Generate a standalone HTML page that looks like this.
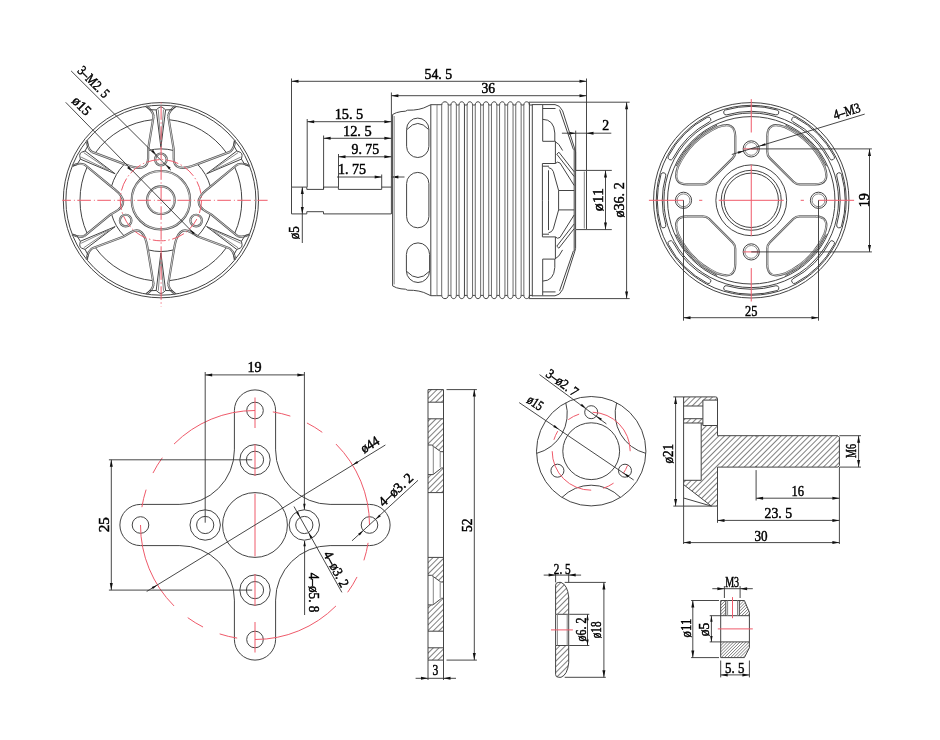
<!DOCTYPE html>
<html><head><meta charset="utf-8"><title>Motor drawing</title><style>
html,body{margin:0;padding:0;background:#fff;}
svg{display:block;will-change:transform;}
.o{fill:none;stroke:#444;stroke-width:1;}
.o2{fill:none;stroke:#555;stroke-width:2.2;}
.w{fill:none;stroke:#fff;stroke-width:0.7;}
.g{fill:none;stroke:#888;stroke-width:1;}
.f{fill:none;stroke:#6a6a6a;stroke-width:1;}
.d{fill:none;stroke:#333;stroke-width:0.9;}
.r{fill:none;stroke:#ef5a6a;stroke-width:1;}
.a{fill:#111;stroke:none;}
.hf{fill:url(#hatch);stroke:none;}
.hf2{fill:url(#hatch2);stroke:none;}
.tS{font-family:"Liberation Serif",serif;fill:#000;stroke:#000;stroke-width:0.45px;}
.tM{font-family:"Liberation Mono",monospace;fill:#000;}
.tA{font-family:"Liberation Sans",sans-serif;fill:#000;}
</style></head>
<body><svg width="940" height="740" viewBox="0 0 940 740"><defs>
<pattern id="hatch" patternUnits="userSpaceOnUse" width="4" height="4" patternTransform="rotate(45)"><line x1="0" y1="0" x2="0" y2="4" stroke="#222" stroke-width="1.15"/></pattern>
<pattern id="hatch2" patternUnits="userSpaceOnUse" width="2.2" height="2.2" patternTransform="rotate(45)"><line x1="0" y1="0" x2="0" y2="2.2" stroke="#333" stroke-width="0.9"/></pattern>
</defs>
<rect width="940" height="740" fill="#fff"/>
<circle class="o" cx="160.9" cy="200.2" r="97.6" />
<circle class="o" cx="160.9" cy="200.2" r="95" />
<path class="o" d="M226.62,153.02A80.9,80.9 0 0 0 168.9,119.7" />
<path class="o" d="M152.9,119.7A80.9,80.9 0 0 0 95.18,153.02" />
<path class="o" d="M87.18,166.88A80.9,80.9 0 0 0 87.18,233.52" />
<path class="o" d="M95.18,247.38A80.9,80.9 0 0 0 152.9,280.7" />
<path class="o" d="M168.9,280.7A80.9,80.9 0 0 0 226.62,247.38" />
<path class="o" d="M234.62,233.52A80.9,80.9 0 0 0 234.62,166.88" />
<path class="o2" d="M230,151.88Q234.98,147.5 234.82,140.43" />
<path class="w" d="M230,151.88Q234.98,147.5 234.82,140.43" />
<path class="o2" d="M237.3,164.52Q243.58,162.4 249.62,166.07" />
<path class="w" d="M237.3,164.52Q243.58,162.4 249.62,166.07" />
<path class="o" d="M234.82,140.43L233.53,144.99L236.75,150.98" />
<path class="o" d="M249.62,166.07L245.03,164.91L241.45,159.12" />
<path class="o" d="M236.75,150.98Q241.04,152.2 241.7,153.55Q242.54,154.8 241.45,159.12" />
<path class="o" d="M236.75,150.98L206.63,173.8L241.45,159.12" />
<path class="g" d="M238.06,152.65L212.71,169.94M240.66,157.15L213.01,170.46" />
<path class="o" d="M210.27,186.25A51.3,51.3 0 0 0 197.67,164.42" />
<path class="o2" d="M153.6,116.2Q152.3,109.7 146.1,106.3" />
<path class="w" d="M153.6,116.2Q152.3,109.7 146.1,106.3" />
<path class="o2" d="M168.2,116.2Q169.5,109.7 175.7,106.3" />
<path class="w" d="M168.2,116.2Q169.5,109.7 175.7,106.3" />
<path class="o" d="M146.1,106.3L149.4,109.7L156.2,109.9" />
<path class="o" d="M175.7,106.3L172.4,109.7L165.6,109.9" />
<path class="o" d="M156.2,109.9Q159.4,106.8 160.9,106.9Q162.4,106.8 165.6,109.9" />
<path class="o" d="M156.2,109.9L160.9,147.4L165.6,109.9" />
<path class="g" d="M158.3,109.6L160.6,140.2M163.5,109.6L161.2,140.2" />
<path class="o" d="M173.5,150.47A51.3,51.3 0 0 0 148.3,150.47" />
<path class="o2" d="M84.5,164.52Q78.22,162.4 72.18,166.07" />
<path class="w" d="M84.5,164.52Q78.22,162.4 72.18,166.07" />
<path class="o2" d="M91.8,151.88Q86.82,147.5 86.98,140.43" />
<path class="w" d="M91.8,151.88Q86.82,147.5 86.98,140.43" />
<path class="o" d="M72.18,166.07L76.77,164.91L80.35,159.12" />
<path class="o" d="M86.98,140.43L88.27,144.99L85.05,150.98" />
<path class="o" d="M80.35,159.12Q79.26,154.8 80.1,153.55Q80.76,152.2 85.05,150.98" />
<path class="o" d="M80.35,159.12L115.17,173.8L85.05,150.98" />
<path class="g" d="M81.14,157.15L108.79,170.46M83.74,152.65L109.09,169.94" />
<path class="o" d="M124.13,164.42A51.3,51.3 0 0 0 111.53,186.25" />
<path class="o2" d="M91.8,248.52Q86.82,252.9 86.98,259.97" />
<path class="w" d="M91.8,248.52Q86.82,252.9 86.98,259.97" />
<path class="o2" d="M84.5,235.88Q78.22,238 72.18,234.33" />
<path class="w" d="M84.5,235.88Q78.22,238 72.18,234.33" />
<path class="o" d="M86.98,259.97L88.27,255.41L85.05,249.42" />
<path class="o" d="M72.18,234.33L76.77,235.49L80.35,241.28" />
<path class="o" d="M85.05,249.42Q80.76,248.2 80.1,246.85Q79.26,245.6 80.35,241.28" />
<path class="o" d="M85.05,249.42L115.17,226.6L80.35,241.28" />
<path class="g" d="M83.74,247.75L109.09,230.46M81.14,243.25L108.79,229.94" />
<path class="o" d="M111.53,214.15A51.3,51.3 0 0 0 124.13,235.98" />
<path class="o2" d="M168.2,284.2Q169.5,290.7 175.7,294.1" />
<path class="w" d="M168.2,284.2Q169.5,290.7 175.7,294.1" />
<path class="o2" d="M153.6,284.2Q152.3,290.7 146.1,294.1" />
<path class="w" d="M153.6,284.2Q152.3,290.7 146.1,294.1" />
<path class="o" d="M175.7,294.1L172.4,290.7L165.6,290.5" />
<path class="o" d="M146.1,294.1L149.4,290.7L156.2,290.5" />
<path class="o" d="M165.6,290.5Q162.4,293.6 160.9,293.5Q159.4,293.6 156.2,290.5" />
<path class="o" d="M165.6,290.5L160.9,253L156.2,290.5" />
<path class="g" d="M163.5,290.8L161.2,260.2M158.3,290.8L160.6,260.2" />
<path class="o" d="M148.3,249.93A51.3,51.3 0 0 0 173.5,249.93" />
<path class="o2" d="M237.3,235.88Q243.58,238 249.62,234.33" />
<path class="w" d="M237.3,235.88Q243.58,238 249.62,234.33" />
<path class="o2" d="M230,248.52Q234.98,252.9 234.82,259.97" />
<path class="w" d="M230,248.52Q234.98,252.9 234.82,259.97" />
<path class="o" d="M249.62,234.33L245.03,235.49L241.45,241.28" />
<path class="o" d="M234.82,259.97L233.53,255.41L236.75,249.42" />
<path class="o" d="M241.45,241.28Q242.54,245.6 241.7,246.85Q241.04,248.2 236.75,249.42" />
<path class="o" d="M241.45,241.28L206.63,226.6L236.75,249.42" />
<path class="g" d="M240.66,243.25L213.01,229.94M238.06,247.75L212.71,230.46" />
<path class="o" d="M197.67,235.98A51.3,51.3 0 0 0 210.27,214.15" />
<path class="o2" d="M230,151.88L198.67,163.61L194.87,165.04Q173.7,172.97 173.7,158.2L173.7,149.2L168.2,116.2" />
<path class="w" d="M230,151.88L198.67,163.61L194.87,165.04Q173.7,172.97 173.7,158.2L173.7,149.2L168.2,116.2" />
<path class="o2" d="M153.6,116.2L148.1,149.2L148.1,158.2Q148.1,172.97 126.93,165.04L123.13,163.61L91.8,151.88" />
<path class="w" d="M153.6,116.2L148.1,149.2L148.1,158.2Q148.1,172.97 126.93,165.04L123.13,163.61L91.8,151.88" />
<path class="o2" d="M84.5,164.52L110.33,185.79L115.03,189.65Q130.92,202.73 115.53,211.61L110.33,214.61L84.5,235.88" />
<path class="w" d="M84.5,164.52L110.33,185.79L115.03,189.65Q130.92,202.73 115.53,211.61L110.33,214.61L84.5,235.88" />
<path class="o2" d="M91.8,248.52L123.13,236.79L130.93,232.29Q143.72,224.9 147.43,247.2L148.1,251.2L153.6,284.2" />
<path class="w" d="M91.8,248.52L123.13,236.79L130.93,232.29Q143.72,224.9 147.43,247.2L148.1,251.2L153.6,284.2" />
<path class="o2" d="M168.2,284.2L173.7,251.2L174.37,247.2Q178.08,224.9 190.87,232.29L198.67,236.79L230,248.52" />
<path class="w" d="M168.2,284.2L173.7,251.2L174.37,247.2Q178.08,224.9 190.87,232.29L198.67,236.79L230,248.52" />
<path class="o2" d="M237.3,235.88L211.47,214.61L206.27,211.61Q190.88,202.73 206.77,189.65L211.47,185.79L237.3,164.52" />
<path class="w" d="M237.3,235.88L211.47,214.61L206.27,211.61Q190.88,202.73 206.77,189.65L211.47,185.79L237.3,164.52" />
<circle class="o2" cx="160.9" cy="200.2" r="29.2" />
<circle class="w" cx="160.9" cy="200.2" r="29.15" />
<circle class="o2" cx="160.9" cy="200.2" r="13.8" />
<circle class="w" cx="160.9" cy="200.2" r="13.75" />
<circle class="o2" cx="160.9" cy="159.5" r="5.8" />
<circle class="w" cx="160.9" cy="159.5" r="5.8" />
<circle class="o2" cx="125.65" cy="220.55" r="5.8" />
<circle class="w" cx="125.65" cy="220.55" r="5.8" />
<circle class="o2" cx="196.15" cy="220.55" r="5.8" />
<circle class="w" cx="196.15" cy="220.55" r="5.8" />
<circle class="r" cx="160.9" cy="200.2" r="40.6" stroke-dasharray="13 2.6 1.4 2.6"/>
<path class="r" d="M62.3,200.3H267.6" stroke-dasharray="13.6 3 0.9 2.5" stroke-dashoffset="5"/>
<path class="r" d="M161.1,101.3V306.7" stroke-dasharray="13.5 2.6 1.2 2.7" stroke-dashoffset="-5"/>
<line class="d" x1="71.1" y1="70.9" x2="171" y2="170.3"/>
<path class="a" d="M156.4,154.9L151.31,151.51L153.01,149.81Z"/>
<path class="a" d="M165.6,164.3L170.69,167.69L168.99,169.39Z"/>
<line class="d" x1="65.7" y1="102.3" x2="197.5" y2="237.2"/>
<path class="a" d="M132.2,171.5L127.14,168.06L128.86,166.38Z"/>
<path class="a" d="M189.6,229.2L194.66,232.64L192.94,234.32Z"/>
<path class="o" d="M291.5,187.1H306.8V189.4H323.5V187.1H338.4V189.4H381.7V187.1H391.3" />
<path class="o" d="M291.5,213.9H306.8V211.7H323.5V213.9H391.3" />
<line class="o" x1="291.5" y1="187.1" x2="291.5" y2="213.9"/>
<line class="d" x1="291.5" y1="78.5" x2="291.5" y2="187.1"/>
<line class="d" x1="307.2" y1="119" x2="307.2" y2="187.1"/>
<line class="d" x1="323.6" y1="135.5" x2="323.6" y2="189.4"/>
<line class="d" x1="338.5" y1="154" x2="338.5" y2="187.1"/>
<line class="d" x1="381.7" y1="174.5" x2="381.7" y2="187.1"/>
<line class="d" x1="391.4" y1="92.5" x2="391.4" y2="214"/>
<line class="d" x1="586.5" y1="78.5" x2="586.5" y2="170.4"/>
<line class="d" x1="291.5" y1="81.3" x2="586.5" y2="81.3"/>
<path class="a" d="M291.5,81.3L298.5,79.8L298.5,82.8Z"/>
<path class="a" d="M586.5,81.3L579.5,82.8L579.5,79.8Z"/>
<line class="d" x1="391.4" y1="95.7" x2="586.5" y2="95.7"/>
<path class="a" d="M391.4,95.7L398.4,94.2L398.4,97.2Z"/>
<path class="a" d="M586.5,95.7L579.5,97.2L579.5,94.2Z"/>
<line class="d" x1="307.2" y1="121.7" x2="391.4" y2="121.7"/>
<path class="a" d="M307.2,121.7L314.2,120.2L314.2,123.2Z"/>
<path class="a" d="M391.4,121.7L384.4,123.2L384.4,120.2Z"/>
<line class="d" x1="323.6" y1="138.3" x2="391.4" y2="138.3"/>
<path class="a" d="M323.6,138.3L330.6,136.8L330.6,139.8Z"/>
<path class="a" d="M391.4,138.3L384.4,139.8L384.4,136.8Z"/>
<line class="d" x1="338.5" y1="156.8" x2="391.4" y2="156.8"/>
<path class="a" d="M338.5,156.8L345.5,155.3L345.5,158.3Z"/>
<path class="a" d="M391.4,156.8L384.4,158.3L384.4,155.3Z"/>
<line class="d" x1="337" y1="177" x2="381.7" y2="177"/>
<path class="a" d="M381.7,177L374.7,178.5L374.7,175.5Z"/>
<line class="d" x1="391.4" y1="177" x2="404.5" y2="177"/>
<path class="a" d="M391.4,177L398.4,175.5L398.4,178.5Z"/>
<line class="d" x1="302.3" y1="187.1" x2="302.3" y2="243"/>
<path class="a" d="M302.3,187.1L303.8,194.1L300.8,194.1Z"/>
<path class="a" d="M302.3,213.9L300.8,206.9L303.8,206.9Z"/>
<line class="d" x1="561.9" y1="133.2" x2="611.3" y2="133.2"/>
<path class="a" d="M575.7,133.2L568.7,134.7L568.7,131.7Z"/>
<path class="a" d="M586.5,133.2L593.5,131.7L593.5,134.7Z"/>
<line class="d" x1="575.7" y1="130.6" x2="575.7" y2="170.4"/>
<line class="d" x1="586.5" y1="170.4" x2="611.8" y2="170.4"/>
<line class="d" x1="586.5" y1="229.6" x2="611.8" y2="229.6"/>
<line class="d" x1="605.5" y1="170.4" x2="605.5" y2="229.6"/>
<path class="a" d="M605.5,170.4L607,177.4L604,177.4Z"/>
<path class="a" d="M605.5,229.6L604,222.6L607,222.6Z"/>
<line class="d" x1="528.6" y1="102.2" x2="629.7" y2="102.2"/>
<line class="d" x1="528.6" y1="298.6" x2="629.7" y2="298.6"/>
<line class="d" x1="626.6" y1="102.2" x2="626.6" y2="298.6"/>
<path class="a" d="M626.6,102.2L628.1,109.2L625.1,109.2Z"/>
<path class="a" d="M626.6,298.6L625.1,291.6L628.1,291.6Z"/>
<path class="o" d="M392.6,114.5Q396,112.3 401,111.6L405.5,111.2L407.5,110.2Q420,110.5 428,106L430.8,104.7H437" />
<path class="o" d="M392.6,285.9Q396,288.1 401,288.8L405.5,289.2L407.5,290.2Q420,289.9 428,294.4L430.8,295.7H437" />
<line class="o" x1="392.6" y1="114.5" x2="392.6" y2="285.9"/>
<line class="g" x1="394.2" y1="116" x2="394.2" y2="284.4"/>
<line class="o" x1="430.8" y1="104.7" x2="430.8" y2="295.7"/>
<line class="g" x1="437" y1="104.7" x2="437" y2="295.7"/>
<path class="o" d="M406.6,129.25A11.15,11.15 0 0 1 428.9,129.25V146.35A11.15,11.15 0 0 1 406.6,146.35Z" />
<path class="o" d="M407,129.5Q417.8,117.4 428.6,129.5" />
<path class="o" d="M406.6,183.55A11.15,11.15 0 0 1 428.9,183.55V216.65A11.15,11.15 0 0 1 406.6,216.65Z" />
<path class="o" d="M406.4,254.5A11.6,11.6 0 0 1 429.6,254.5V270.9A11.6,11.6 0 0 1 406.4,270.9Z" />
<path class="o" d="M406.8,271.5Q418,283.5 429.2,271.5" />
<path class="o" d="M437,104.7H441.7L441.7,105C441.7,100.7 448.25,100.7 448.25,105L450.95,105C450.95,100.7 456.35,100.7 456.35,105L459.05,105C459.05,100.7 464.45,100.7 464.45,105L467.15,105C467.15,100.7 472.55,100.7 472.55,105L475.25,105C475.25,100.7 480.65,100.7 480.65,105L483.35,105C483.35,100.7 488.75,100.7 488.75,105L491.45,105C491.45,100.7 496.85,100.7 496.85,105L499.55,105C499.55,100.7 504.95,100.7 504.95,105L507.65,105C507.65,100.7 513.05,100.7 513.05,105L515.75,105C515.75,100.7 521.15,100.7 521.15,105L523.85,105C523.85,100.7 529.4,100.7 529.4,105L532.3,105" />
<path class="o" d="M437,295.7H441.7L441.7,295.4C441.7,299.7 448.25,299.7 448.25,295.4L450.95,295.4C450.95,299.7 456.35,299.7 456.35,295.4L459.05,295.4C459.05,299.7 464.45,299.7 464.45,295.4L467.15,295.4C467.15,299.7 472.55,299.7 472.55,295.4L475.25,295.4C475.25,299.7 480.65,299.7 480.65,295.4L483.35,295.4C483.35,299.7 488.75,299.7 488.75,295.4L491.45,295.4C491.45,299.7 496.85,299.7 496.85,295.4L499.55,295.4C499.55,299.7 504.95,299.7 504.95,295.4L507.65,295.4C507.65,299.7 513.05,299.7 513.05,295.4L515.75,295.4C515.75,299.7 521.15,299.7 521.15,295.4L523.85,295.4C523.85,299.7 529.4,299.7 529.4,295.4L532.3,295.4" />
<line class="f" x1="441.7" y1="104.6" x2="441.7" y2="295.8"/>
<line class="f" x1="448.25" y1="104.4" x2="448.25" y2="296"/>
<line class="f" x1="450.95" y1="104.4" x2="450.95" y2="296"/>
<line class="f" x1="456.35" y1="104.4" x2="456.35" y2="296"/>
<line class="f" x1="459.05" y1="104.4" x2="459.05" y2="296"/>
<line class="o" x1="464.45" y1="104.4" x2="464.45" y2="296"/>
<line class="f" x1="467.15" y1="104.4" x2="467.15" y2="296"/>
<line class="f" x1="472.55" y1="104.4" x2="472.55" y2="296"/>
<line class="f" x1="475.25" y1="104.4" x2="475.25" y2="296"/>
<line class="f" x1="480.65" y1="104.4" x2="480.65" y2="296"/>
<line class="f" x1="483.35" y1="104.4" x2="483.35" y2="296"/>
<line class="f" x1="488.75" y1="104.4" x2="488.75" y2="296"/>
<line class="f" x1="491.45" y1="104.4" x2="491.45" y2="296"/>
<line class="f" x1="496.85" y1="104.4" x2="496.85" y2="296"/>
<line class="f" x1="499.55" y1="104.4" x2="499.55" y2="296"/>
<line class="f" x1="504.95" y1="104.4" x2="504.95" y2="296"/>
<line class="f" x1="507.65" y1="104.4" x2="507.65" y2="296"/>
<line class="f" x1="513.05" y1="104.4" x2="513.05" y2="296"/>
<line class="f" x1="515.75" y1="104.4" x2="515.75" y2="296"/>
<line class="f" x1="521.15" y1="104.4" x2="521.15" y2="296"/>
<line class="f" x1="523.85" y1="104.4" x2="523.85" y2="296"/>
<line class="o" x1="529.4" y1="102.5" x2="529.4" y2="297.9"/>
<line class="o" x1="532.3" y1="104" x2="532.3" y2="296.4"/>
<path class="o" d="M532.3,104.6H555Q559.8,105 562.6,110.8L574.8,149L575.6,152V170.4" />
<path class="o" d="M559.6,109.6L573.4,149.5" />
<line class="o" x1="542.7" y1="108.5" x2="555.5" y2="108.5"/>
<path class="o" d="M542.7,105V141.3H554.8V133Q554,119.5 542.7,119.3" />
<path class="o" d="M554.8,141.3Q559,143 562.6,150.5" />
<path class="o" d="M556.8,154.2L574.2,176.5M558.9,152.2L574.2,171.8M556.8,154.2L558.9,152.2" />
<path class="o" d="M555.3,163.5Q557.5,161 560,163L574.2,185.5" />
<path class="o" d="M542.4,163.5H555.3M542.4,163.5V200.2M548.5,170.3V200.2M542.4,166.2H549" />
<path class="o" d="M548.5,167.6Q552,168 553.3,171.5L558.6,190.5H574.2" />
<line class="o" x1="555.4" y1="141.3" x2="555.4" y2="163.5"/>
<path class="o" d="M532.3,295.8H555Q559.8,295.4 562.6,289.6L574.8,251.4L575.6,248.4V230" />
<path class="o" d="M559.6,290.8L573.4,250.9" />
<line class="o" x1="542.7" y1="291.9" x2="555.5" y2="291.9"/>
<path class="o" d="M542.7,295.4V259.1H554.8V267.4Q554,280.9 542.7,281.1" />
<path class="o" d="M554.8,259.1Q559,257.4 562.6,249.9" />
<path class="o" d="M556.8,246.2L574.2,223.9M558.9,248.2L574.2,228.6M556.8,246.2L558.9,248.2" />
<path class="o" d="M555.3,236.9Q557.5,239.4 560,237.4L574.2,214.9" />
<path class="o" d="M542.4,236.9H555.3M542.4,236.9V200.2M548.5,230.1V200.2M542.4,234.2H549" />
<path class="o" d="M548.5,232.8Q552,232.4 553.3,228.9L558.6,209.9H574.2" />
<line class="o" x1="555.4" y1="259.1" x2="555.4" y2="236.9"/>
<line class="o" x1="558.6" y1="190.5" x2="558.6" y2="209.9"/>
<line class="o" x1="574.2" y1="149" x2="574.2" y2="251.4"/>
<line class="o" x1="575.6" y1="170.4" x2="575.6" y2="229.6"/>
<path class="o" d="M575.6,170.4H586.5V229.6H575.6" />
<line class="g" x1="584.3" y1="171.5" x2="584.3" y2="228.5"/>
<circle class="o" cx="751.25" cy="200.3" r="97.7" />
<circle class="o" cx="751.25" cy="200.3" r="95" />
<circle class="o" cx="751.25" cy="200.3" r="87.3" />
<circle class="o" cx="751.25" cy="200.3" r="83.7" />
<path class="o" d="M841.51,226.18A93.9,93.9 0 0 0 841.51,174.42A2.5,2.5 0 0 0 836.71,175.8A88.9,88.9 0 0 1 836.71,224.8A2.5,2.5 0 0 0 841.51,226.18Z" />
<path class="o" d="M834.16,156.22A93.9,93.9 0 0 0 795.33,117.39A2.5,2.5 0 0 0 792.99,121.81A88.9,88.9 0 0 1 829.74,158.56A2.5,2.5 0 0 0 834.16,156.22Z" />
<path class="o" d="M777.13,110.04A93.9,93.9 0 0 0 725.37,110.04A2.5,2.5 0 0 0 726.75,114.84A88.9,88.9 0 0 1 775.75,114.84A2.5,2.5 0 0 0 777.13,110.04Z" />
<path class="o" d="M707.17,117.39A93.9,93.9 0 0 0 668.34,156.22A2.5,2.5 0 0 0 672.76,158.56A88.9,88.9 0 0 1 709.51,121.81A2.5,2.5 0 0 0 707.17,117.39Z" />
<path class="o" d="M660.99,174.42A93.9,93.9 0 0 0 660.99,226.18A2.5,2.5 0 0 0 665.79,224.8A88.9,88.9 0 0 1 665.79,175.8A2.5,2.5 0 0 0 660.99,174.42Z" />
<path class="o" d="M668.34,244.38A93.9,93.9 0 0 0 707.17,283.21A2.5,2.5 0 0 0 709.51,278.79A88.9,88.9 0 0 1 672.76,242.04A2.5,2.5 0 0 0 668.34,244.38Z" />
<path class="o" d="M725.37,290.56A93.9,93.9 0 0 0 777.13,290.56A2.5,2.5 0 0 0 775.75,285.76A88.9,88.9 0 0 1 726.75,285.76A2.5,2.5 0 0 0 725.37,290.56Z" />
<path class="o" d="M795.33,283.21A93.9,93.9 0 0 0 834.16,244.38A2.5,2.5 0 0 0 829.74,242.04A88.9,88.9 0 0 1 792.99,278.79A2.5,2.5 0 0 0 795.33,283.21Z" />
<path class="o2" d="M767.25,151.8L767.25,136.3Q767.25,120.8 784.67,126.96A80.6,80.6 0 0 1 824.59,166.88Q830.75,184.3 815.25,184.3L799.75,184.3Q795.95,184.3 793.45,181.8L769.75,158.1Q767.25,155.6 767.25,151.8Z" />
<path class="w" d="M767.25,151.8L767.25,136.3Q767.25,120.8 784.67,126.96A80.6,80.6 0 0 1 824.59,166.88Q830.75,184.3 815.25,184.3L799.75,184.3Q795.95,184.3 793.45,181.8L769.75,158.1Q767.25,155.6 767.25,151.8Z" />
<path class="o" d="M785.5,125.14A82.6,82.6 0 0 1 826.41,166.05" />
<path class="g" d="M785.74,126.35A81.6,81.6 0 0 1 825.2,165.81" style="stroke-width:1.6;stroke:#999;stroke-dasharray:0.8 0.8"/>
<path class="o2" d="M735.25,151.8L735.25,136.3Q735.25,120.8 717.83,126.96A80.6,80.6 0 0 0 677.91,166.88Q671.75,184.3 687.25,184.3L702.75,184.3Q706.55,184.3 709.05,181.8L732.75,158.1Q735.25,155.6 735.25,151.8Z" />
<path class="w" d="M735.25,151.8L735.25,136.3Q735.25,120.8 717.83,126.96A80.6,80.6 0 0 0 677.91,166.88Q671.75,184.3 687.25,184.3L702.75,184.3Q706.55,184.3 709.05,181.8L732.75,158.1Q735.25,155.6 735.25,151.8Z" />
<path class="o" d="M717,125.14A82.6,82.6 0 0 0 676.09,166.05" />
<path class="g" d="M716.76,126.35A81.6,81.6 0 0 0 677.3,165.81" style="stroke-width:1.6;stroke:#999;stroke-dasharray:0.8 0.8"/>
<path class="o2" d="M767.25,248.8L767.25,264.3Q767.25,279.8 784.67,273.64A80.6,80.6 0 0 0 824.59,233.72Q830.75,216.3 815.25,216.3L799.75,216.3Q795.95,216.3 793.45,218.8L769.75,242.5Q767.25,245 767.25,248.8Z" />
<path class="w" d="M767.25,248.8L767.25,264.3Q767.25,279.8 784.67,273.64A80.6,80.6 0 0 0 824.59,233.72Q830.75,216.3 815.25,216.3L799.75,216.3Q795.95,216.3 793.45,218.8L769.75,242.5Q767.25,245 767.25,248.8Z" />
<path class="o" d="M785.5,275.46A82.6,82.6 0 0 0 826.41,234.55" />
<path class="g" d="M785.74,274.25A81.6,81.6 0 0 0 825.2,234.79" style="stroke-width:1.6;stroke:#999;stroke-dasharray:0.8 0.8"/>
<path class="o2" d="M735.25,248.8L735.25,264.3Q735.25,279.8 717.83,273.64A80.6,80.6 0 0 1 677.91,233.72Q671.75,216.3 687.25,216.3L702.75,216.3Q706.55,216.3 709.05,218.8L732.75,242.5Q735.25,245 735.25,248.8Z" />
<path class="w" d="M735.25,248.8L735.25,264.3Q735.25,279.8 717.83,273.64A80.6,80.6 0 0 1 677.91,233.72Q671.75,216.3 687.25,216.3L702.75,216.3Q706.55,216.3 709.05,218.8L732.75,242.5Q735.25,245 735.25,248.8Z" />
<path class="o" d="M717,275.46A82.6,82.6 0 0 1 676.09,234.55" />
<path class="g" d="M716.76,274.25A81.6,81.6 0 0 1 677.3,234.79" style="stroke-width:1.6;stroke:#999;stroke-dasharray:0.8 0.8"/>
<circle class="o" cx="751.25" cy="148.9" r="8.1" />
<circle class="g" cx="751.25" cy="148.9" r="6.4" />
<circle class="o" cx="751.25" cy="251.9" r="8.1" />
<circle class="g" cx="751.25" cy="251.9" r="6.4" />
<circle class="o" cx="683.5" cy="200.3" r="8.1" />
<circle class="g" cx="683.5" cy="200.3" r="6.4" />
<circle class="o" cx="818.5" cy="200.3" r="8.1" />
<circle class="g" cx="818.5" cy="200.3" r="6.4" />
<circle class="o" cx="751.25" cy="200.3" r="35.4" />
<circle class="o" cx="751.25" cy="200.3" r="30" />
<circle class="o" cx="751.25" cy="200.3" r="27.2" />
<line class="r" x1="718.75" y1="200.3" x2="783.75" y2="200.3"/>
<line class="r" x1="751.25" y1="167.8" x2="751.25" y2="232.8"/>
<line class="r" x1="751.25" y1="99.1" x2="751.25" y2="132.5"/>
<line class="r" x1="751.25" y1="268.1" x2="751.25" y2="301.5"/>
<line class="r" x1="648.9" y1="200.3" x2="683.5" y2="200.3"/>
<line class="r" x1="818.5" y1="200.3" x2="854.1" y2="200.3"/>
<line class="r" x1="699.1" y1="200.3" x2="702.3" y2="200.3"/>
<line class="r" x1="800.7" y1="200.3" x2="803.9" y2="200.3"/>
<line class="r" x1="751.25" y1="164.7" x2="751.25" y2="167.7"/>
<line class="r" x1="751.25" y1="232.9" x2="751.25" y2="235.9"/>
<line class="r" x1="743.25" y1="148.9" x2="759.25" y2="148.9"/>
<line class="r" x1="743.25" y1="251.9" x2="759.25" y2="251.9"/>
<line class="d" x1="751.25" y1="148.9" x2="871.9" y2="148.9"/>
<line class="d" x1="751.25" y1="251.9" x2="871.9" y2="251.9"/>
<line class="d" x1="869.5" y1="148.9" x2="869.5" y2="251.9"/>
<path class="a" d="M869.5,148.9L871,155.9L868,155.9Z"/>
<path class="a" d="M869.5,251.9L868,244.9L871,244.9Z"/>
<line class="d" x1="683.5" y1="200.3" x2="683.5" y2="320.7"/>
<line class="d" x1="818.5" y1="200.3" x2="818.5" y2="320.7"/>
<line class="d" x1="683.5" y1="317.7" x2="818.5" y2="317.7"/>
<path class="a" d="M683.5,317.7L690.5,316.2L690.5,319.2Z"/>
<path class="a" d="M818.5,317.7L811.5,319.2L811.5,316.2Z"/>
<line class="d" x1="731.8" y1="154.5" x2="864.7" y2="114.1"/>
<path class="a" d="M743.8,150.9L738.41,153.79L737.71,151.5Z"/>
<path class="a" d="M759.6,146.1L764.99,143.21L765.69,145.5Z"/>
<path class="o" d="M234.4,410.5A20.6,20.6 0 0 1 275.6,410.5L275.6,449.9A54.5,54.5 0 0 0 330.1,504.4L369.5,504.4A20.6,20.6 0 0 1 369.5,545.6L330.1,545.6A54.5,54.5 0 0 0 275.6,600.1L275.6,639.5A20.6,20.6 0 0 1 234.4,639.5L234.4,600.1A54.5,54.5 0 0 0 179.9,545.6L140.5,545.6A20.6,20.6 0 0 1 140.5,504.4L179.9,504.4A54.5,54.5 0 0 0 234.4,449.9Z" />
<circle class="o" cx="255" cy="525" r="32.4" />
<circle class="o" cx="255" cy="410.5" r="8.3" />
<circle class="o" cx="255" cy="639.5" r="8.3" />
<circle class="o" cx="140.5" cy="525" r="8.3" />
<circle class="o" cx="369.5" cy="525" r="8.3" />
<circle class="o" cx="255" cy="459.8" r="15.2" />
<circle class="o" cx="255" cy="459.8" r="8.6" />
<circle class="o" cx="255" cy="590.1" r="15.2" />
<circle class="o" cx="255" cy="590.1" r="8.6" />
<circle class="o" cx="205.2" cy="525" r="15.2" />
<circle class="o" cx="205.2" cy="525" r="8.6" />
<circle class="o" cx="304.3" cy="525" r="15.2" />
<circle class="o" cx="304.3" cy="525" r="8.6" />
<circle class="r" cx="255" cy="525" r="114.5" pathLength="360" stroke-dasharray="9 9 9 9 45 9" stroke-dashoffset="81"/>
<line class="r" x1="255" y1="493.6" x2="255" y2="556.4"/>
<line class="r" x1="255" y1="444.2" x2="255" y2="476"/>
<line class="r" x1="255" y1="574" x2="255" y2="606"/>
<line class="r" x1="255" y1="397.5" x2="255" y2="428"/>
<line class="r" x1="255" y1="622" x2="255" y2="652.5"/>
<line class="d" x1="205.2" y1="372" x2="205.2" y2="522.7"/>
<line class="d" x1="304.4" y1="372" x2="304.4" y2="509.8"/>
<line class="d" x1="205.2" y1="374.9" x2="304.4" y2="374.9"/>
<path class="a" d="M205.2,374.9L212.2,373.4L212.2,376.4Z"/>
<path class="a" d="M304.4,374.9L297.4,376.4L297.4,373.4Z"/>
<line class="d" x1="108.9" y1="459.8" x2="252.2" y2="459.8"/>
<line class="d" x1="108.9" y1="590.1" x2="252.2" y2="590.1"/>
<line class="d" x1="111.3" y1="459.8" x2="111.3" y2="590.1"/>
<path class="a" d="M111.3,459.8L112.8,466.8L109.8,466.8Z"/>
<path class="a" d="M111.3,590.1L109.8,583.1L112.8,583.1Z"/>
<line class="d" x1="146.7" y1="591.46" x2="385.4" y2="444.97"/>
<path class="a" d="M352.59,465.11L357.07,460.95L358.33,462.99Z"/>
<path class="a" d="M157.41,584.89L152.93,589.05L151.67,587.01Z"/>
<line class="d" x1="352" y1="540.8" x2="418" y2="480.3"/>
<path class="a" d="M363.38,530.61L359.77,535.55L358.15,533.78Z"/>
<path class="a" d="M375.62,519.39L379.23,514.45L380.85,516.22Z"/>
<line class="d" x1="294" y1="506.5" x2="341.9" y2="592.4"/>
<path class="a" d="M300.11,517.49L296.14,512.83L298.24,511.66Z"/>
<path class="a" d="M308.49,532.51L312.46,537.17L310.36,538.34Z"/>
<line class="d" x1="304.6" y1="541" x2="304.6" y2="615"/>
<path class="a" d="M304.6,540.2L305.8,546.2L303.4,546.2Z"/>
<path class="a" d="M304.4,509.8L303.2,503.8L305.6,503.8Z"/>
<path class="o" d="M428,389.6H443.5V660.1H428Z" />
<rect class="hf" x="428" y="389.6" width="15.5" height="12.6"/>
<rect class="hf" x="428" y="647.8" width="15.5" height="12.3"/>
<path class="hf" d="M428,418.8L443.5,418.8L443.5,451.7L440.8,451.7L431.5,445L428,445Z"/>
<path class="hf" d="M428,474.6L433,474.6L441.5,468L443.5,468L443.5,492.6L428,492.6Z"/>
<path class="o" d="M428,445H431.5L440.8,451.7H443.5M428,474.6H433L441.5,468H443.5" />
<line class="g" x1="433.3" y1="445.3" x2="433.3" y2="474.3"/>
<line class="g" x1="440.2" y1="452" x2="440.2" y2="467.6"/>
<path class="hf" d="M428,557.4L443.5,557.4L443.5,582L440.8,582L431.5,575.3L428,575.3Z"/>
<path class="hf" d="M428,604.9L433,604.9L441.5,598.3L443.5,598.3L443.5,631.2L428,631.2Z"/>
<path class="o" d="M428,575.3H431.5L440.8,582H443.5M428,604.9H433L441.5,598.3H443.5" />
<line class="g" x1="433.3" y1="575.6" x2="433.3" y2="604.6"/>
<line class="g" x1="440.2" y1="582.3" x2="440.2" y2="597.9"/>
<line class="o" x1="428" y1="402.2" x2="443.5" y2="402.2"/>
<line class="o" x1="428" y1="418.8" x2="443.5" y2="418.8"/>
<line class="o" x1="428" y1="492.6" x2="443.5" y2="492.6"/>
<line class="o" x1="428" y1="557.4" x2="443.5" y2="557.4"/>
<line class="o" x1="428" y1="631.2" x2="443.5" y2="631.2"/>
<line class="o" x1="428" y1="647.8" x2="443.5" y2="647.8"/>
<line class="d" x1="446.5" y1="389.6" x2="476.9" y2="389.6"/>
<line class="d" x1="446.5" y1="660.1" x2="476.9" y2="660.1"/>
<line class="d" x1="474.3" y1="389.6" x2="474.3" y2="660.1"/>
<path class="a" d="M474.3,389.6L475.8,396.6L472.8,396.6Z"/>
<path class="a" d="M474.3,660.1L472.8,653.1L475.8,653.1Z"/>
<line class="d" x1="428" y1="660.1" x2="428" y2="680"/>
<line class="d" x1="443.5" y1="660.1" x2="443.5" y2="680"/>
<line class="d" x1="415.6" y1="678.3" x2="456" y2="678.3"/>
<path class="a" d="M428,678.3L421,679.8L421,676.8Z"/>
<path class="a" d="M443.5,678.3L450.5,676.8L450.5,679.8Z"/>
<circle class="o" cx="591.2" cy="451.2" r="54.7" />
<circle class="o" cx="591.2" cy="451.2" r="28.4" />
<circle class="o" cx="591.2" cy="412.2" r="6.5" />
<circle class="o" cx="557.43" cy="470.7" r="6.5" />
<circle class="o" cx="624.97" cy="470.7" r="6.5" />
<path class="o" d="M616.63,402.77A41,41 0 0 0 645.86,453.39" />
<path class="o" d="M536.54,453.39A41,41 0 0 0 565.77,402.77" />
<path class="o" d="M620.42,497.44A41,41 0 0 0 561.98,497.44" />
<path class="r" d="M630.2,451.2A39,39 0 0 0 592.56,412.22" />
<path class="r" d="M579.15,414.11A39,39 0 0 0 568.28,419.65" />
<path class="r" d="M557.77,431.11A39,39 0 0 0 553.9,439.8" />
<path class="r" d="M552.2,451.2A39,39 0 0 0 591.2,490.2" />
<path class="r" d="M603.25,488.29A39,39 0 0 0 613.57,483.15" />
<path class="r" d="M623.15,473.57A39,39 0 0 0 627.61,465.18" />
<line class="d" x1="539.5" y1="374.6" x2="606.4" y2="423.9"/>
<path class="a" d="M585.97,408.34L580.43,405.75L581.85,403.82Z"/>
<path class="a" d="M596.43,416.06L601.97,418.65L600.55,420.58Z"/>
<line class="d" x1="519.2" y1="402.6" x2="633.7" y2="480"/>
<path class="a" d="M558.89,429.36L553.25,426.99L554.59,425Z"/>
<path class="a" d="M623.51,473.04L629.15,475.41L627.81,477.4Z"/>
<path class="hf" d="M683.6,396.9L715.5,396.9L717.5,398.9L717.5,400.1L702.9,400.1L702.9,406L683.6,406Z"/>
<path class="hf" d="M683.6,418.7L702.9,418.7L702.9,423L683.6,423Z"/>
<path class="hf" d="M701.2,423L702.9,423L702.9,425.5L717.5,425.5L717.5,435.7L837.9,435.7L839.4,437.2L839.4,465.6L837.9,467.1L717.5,467.1L717.5,506.1L711.4,506.1L683.6,484.6L683.6,480.3L701.2,480.3Z"/>
<path class="o" d="M683.6,506.1V396.9H715.5Q717.5,396.9 717.5,398.9V435.7H837.9L839.4,437.2V465.6L837.9,467.1H717.5V506.1Z" />
<path class="o" d="M702.9,400.1H717.5M702.9,400.1V425.5H717.5M683.6,406H702.9M683.6,418.7H702.9M683.6,423H702.9M701.2,423V480.3H683.6" />
<path class="o" d="M683.6,484.6L711.4,506.1M683.6,498L711.4,506.1" />
<line class="o" x1="756.1" y1="435.7" x2="756.1" y2="436.9"/>
<line class="o" x1="756.1" y1="467.1" x2="756.1" y2="465.9"/>
<line class="d" x1="673.3" y1="396.9" x2="683.6" y2="396.9"/>
<line class="d" x1="673.3" y1="506.1" x2="683.6" y2="506.1"/>
<line class="d" x1="675.6" y1="396.9" x2="675.6" y2="506.1"/>
<path class="a" d="M675.6,396.9L677.1,403.9L674.1,403.9Z"/>
<path class="a" d="M675.6,506.1L674.1,499.1L677.1,499.1Z"/>
<line class="d" x1="839.4" y1="435.7" x2="861" y2="435.7"/>
<line class="d" x1="839.4" y1="467.1" x2="861" y2="467.1"/>
<line class="d" x1="858.6" y1="435.7" x2="858.6" y2="467.1"/>
<path class="a" d="M858.6,435.7L860.1,442.7L857.1,442.7Z"/>
<path class="a" d="M858.6,467.1L857.1,460.1L860.1,460.1Z"/>
<line class="d" x1="756.1" y1="470.1" x2="756.1" y2="500.5"/>
<line class="d" x1="839.4" y1="467.1" x2="839.4" y2="544"/>
<line class="d" x1="756.1" y1="498.2" x2="839.4" y2="498.2"/>
<path class="a" d="M756.1,498.2L763.1,496.7L763.1,499.7Z"/>
<path class="a" d="M839.4,498.2L832.4,499.7L832.4,496.7Z"/>
<line class="d" x1="717.5" y1="506.1" x2="717.5" y2="522.8"/>
<line class="d" x1="717.5" y1="520.4" x2="839.4" y2="520.4"/>
<path class="a" d="M717.5,520.4L724.5,518.9L724.5,521.9Z"/>
<path class="a" d="M839.4,520.4L832.4,521.9L832.4,518.9Z"/>
<line class="d" x1="683.6" y1="506.1" x2="683.6" y2="544"/>
<line class="d" x1="683.6" y1="542.6" x2="839.4" y2="542.6"/>
<path class="a" d="M683.6,542.6L690.6,541.1L690.6,544.1Z"/>
<path class="a" d="M839.4,542.6L832.4,544.1L832.4,541.1Z"/>
<path class="hf" d="M555.6,585.1Q555.6,582.4 558.8,582.4H561Q567.5,584.9 568.7,597V614.3H555.6Z" />
<path class="hf" d="M555.6,674.6Q555.6,677.3 558.8,677.3H561Q567.5,674.8 568.7,662.8V645.5H555.6Z" />
<path class="o" d="M555.6,585.1Q555.6,582.4 558.8,582.4H561Q567.5,584.9 568.7,597V614.3H555.6Z" />
<path class="o" d="M555.6,674.6Q555.6,677.3 558.8,677.3H561Q567.5,674.8 568.7,662.8V645.5H555.6Z" />
<line class="o" x1="555.6" y1="614.3" x2="555.6" y2="645.5"/>
<line class="o" x1="568.7" y1="614.3" x2="568.7" y2="645.5"/>
<line class="g" x1="557.4" y1="614.3" x2="557.4" y2="645.5"/>
<line class="g" x1="567.2" y1="614.3" x2="567.2" y2="645.5"/>
<line class="r" x1="551" y1="629.9" x2="572.9" y2="629.9"/>
<line class="d" x1="555.6" y1="573.5" x2="555.6" y2="582.4"/>
<line class="d" x1="568.7" y1="573.5" x2="568.7" y2="582.4"/>
<line class="d" x1="543.7" y1="575.1" x2="581.1" y2="575.1"/>
<path class="a" d="M555.6,575.1L548.6,576.6L548.6,573.6Z"/>
<path class="a" d="M568.7,575.1L575.7,573.6L575.7,576.6Z"/>
<line class="d" x1="564.7" y1="582.4" x2="605.8" y2="582.4"/>
<line class="d" x1="564.7" y1="677.3" x2="605.8" y2="677.3"/>
<line class="d" x1="603.9" y1="582.4" x2="603.9" y2="677.3"/>
<path class="a" d="M603.9,582.4L605.4,589.4L602.4,589.4Z"/>
<path class="a" d="M603.9,677.3L602.4,670.3L605.4,670.3Z"/>
<line class="d" x1="569.2" y1="614.3" x2="589.3" y2="614.3"/>
<line class="d" x1="569.2" y1="645.5" x2="589.3" y2="645.5"/>
<line class="d" x1="587.5" y1="614.3" x2="587.5" y2="645.5"/>
<path class="a" d="M587.5,614.3L588.7,620.3L586.3,620.3Z"/>
<path class="a" d="M587.5,645.5L586.3,639.5L588.7,639.5Z"/>
<path class="hf2" d="M720.7,600.5L725.8,600.5L725.8,615.7L720.7,615.7Z"/>
<path class="hf2" d="M739.3,600.5L744.4,600.5L749.4,612.3L749.4,615.7L739.3,615.7Z"/>
<path class="hf2" d="M720.7,641.9L749.4,641.9L749.4,647.8L744.4,657.6L720.7,657.6Z"/>
<path class="o" d="M720.7,600.5H744.4L749.4,612.3V647.8L744.4,657.6H720.7Z" />
<path class="o" d="M720.7,615.7H749.4M720.7,641.9H749.4M725.8,600.5V615.7M739.3,600.5V615.7" />
<line class="g" x1="727.6" y1="600.5" x2="727.6" y2="615.7"/>
<line class="g" x1="737.5" y1="600.5" x2="737.5" y2="615.7"/>
<line class="r" x1="732.5" y1="597.1" x2="732.5" y2="618.2"/>
<line class="r" x1="717.8" y1="628.9" x2="752.8" y2="628.9"/>
<line class="d" x1="724.4" y1="586.1" x2="724.4" y2="598"/>
<line class="d" x1="740.1" y1="586.1" x2="740.1" y2="598"/>
<line class="d" x1="712.3" y1="588.7" x2="752.8" y2="588.7"/>
<path class="a" d="M724.4,588.7L717.4,590.2L717.4,587.2Z"/>
<path class="a" d="M740.1,588.7L747.1,587.2L747.1,590.2Z"/>
<line class="d" x1="691.1" y1="600.5" x2="719" y2="600.5"/>
<line class="d" x1="691.1" y1="657.6" x2="719" y2="657.6"/>
<line class="d" x1="692.8" y1="600.5" x2="692.8" y2="657.6"/>
<path class="a" d="M692.8,600.5L694.3,607.5L691.3,607.5Z"/>
<path class="a" d="M692.8,657.6L691.3,650.6L694.3,650.6Z"/>
<line class="d" x1="709.7" y1="615.7" x2="720.7" y2="615.7"/>
<line class="d" x1="709.7" y1="641.9" x2="720.7" y2="641.9"/>
<line class="d" x1="711.4" y1="615.7" x2="711.4" y2="641.9"/>
<path class="a" d="M711.4,615.7L712.6,621.7L710.2,621.7Z"/>
<path class="a" d="M711.4,641.9L710.2,635.9L712.6,635.9Z"/>
<line class="d" x1="720.7" y1="660.5" x2="720.7" y2="677.4"/>
<line class="d" x1="749.4" y1="660.5" x2="749.4" y2="677.4"/>
<line class="d" x1="720.7" y1="674.9" x2="749.4" y2="674.9"/>
<path class="a" d="M720.7,674.9L727.7,673.4L727.7,676.4Z"/>
<path class="a" d="M749.4,674.9L742.4,676.4L742.4,673.4Z"/>
<text class="tS" x="90.43" y="85.17" font-size="14" text-anchor="middle" transform="rotate(45 90.43 85.17)" textLength="38.71" lengthAdjust="spacingAndGlyphs" >3–M2. 5</text>
<text class="tS" x="78.53" y="109.07" font-size="14" text-anchor="middle" transform="rotate(45 78.53 109.07)" textLength="20.46" lengthAdjust="spacingAndGlyphs" >ø15</text>
<text class="tS" x="438.3" y="78.88" font-size="14" text-anchor="middle" textLength="27.64" lengthAdjust="spacingAndGlyphs" >54. 5</text>
<text class="tS" x="488.3" y="93.18" font-size="14" text-anchor="middle" textLength="13.63" lengthAdjust="spacingAndGlyphs" >36</text>
<text class="tS" x="348.95" y="118.58" font-size="14" text-anchor="middle" textLength="28.59" lengthAdjust="spacingAndGlyphs" >15. 5</text>
<text class="tS" x="357.35" y="136.33" font-size="14" text-anchor="middle" textLength="28.81" lengthAdjust="spacingAndGlyphs" >12. 5</text>
<text class="tS" x="365.3" y="153.88" font-size="14" text-anchor="middle" textLength="27.65" lengthAdjust="spacingAndGlyphs" >9. 75</text>
<text class="tS" x="351.95" y="173.63" font-size="14" text-anchor="middle" textLength="28.15" lengthAdjust="spacingAndGlyphs" >1. 75</text>
<text class="tS" x="299.13" y="232.65" font-size="14" text-anchor="middle" transform="rotate(-90 299.13 232.65)" textLength="13.01" lengthAdjust="spacingAndGlyphs" >ø5</text>
<text class="tS" x="605.65" y="130.28" font-size="14" text-anchor="middle" textLength="6.91" lengthAdjust="spacingAndGlyphs" >2</text>
<text class="tS" x="602.68" y="199.65" font-size="14" text-anchor="middle" transform="rotate(-90 602.68 199.65)" textLength="23.06" lengthAdjust="spacingAndGlyphs" >ø11</text>
<text class="tS" x="623.78" y="199.9" font-size="14" text-anchor="middle" transform="rotate(-90 623.78 199.9)" textLength="35.27" lengthAdjust="spacingAndGlyphs" >ø36. 2</text>
<text class="tS" x="848.1" y="115.69" font-size="14" text-anchor="middle" transform="rotate(-16.9 848.1 115.69)" textLength="27.43" lengthAdjust="spacingAndGlyphs" >4–M3</text>
<text class="tS" x="868.73" y="200.25" font-size="14" text-anchor="middle" transform="rotate(-90 868.73 200.25)" textLength="14.19" lengthAdjust="spacingAndGlyphs" >19</text>
<text class="tS" x="751.15" y="315.98" font-size="14" text-anchor="middle" textLength="12.4" lengthAdjust="spacingAndGlyphs" >25</text>
<text class="tS" x="254.5" y="371.93" font-size="14" text-anchor="middle" textLength="14.18" lengthAdjust="spacingAndGlyphs" >19</text>
<text class="tS" x="109.43" y="524.7" font-size="14" text-anchor="middle" transform="rotate(-90 109.43 524.7)" textLength="15.06" lengthAdjust="spacingAndGlyphs" >25</text>
<text class="tS" x="372.24" y="448.52" font-size="14" text-anchor="middle" transform="rotate(-31.5 372.24 448.52)" textLength="19.29" lengthAdjust="spacingAndGlyphs" >ø44</text>
<text class="tS" x="398.78" y="493.15" font-size="14" text-anchor="middle" transform="rotate(-42.5 398.78 493.15)" textLength="41.74" lengthAdjust="spacingAndGlyphs" >4–ø3. 2</text>
<text class="tS" x="332.21" y="571.43" font-size="14" text-anchor="middle" transform="rotate(61.6 332.21 571.43)" textLength="38.77" lengthAdjust="spacingAndGlyphs" >4–ø3. 2</text>
<text class="tS" x="308.82" y="592.55" font-size="14" text-anchor="middle" transform="rotate(90 308.82 592.55)" textLength="39.77" lengthAdjust="spacingAndGlyphs" >4–ø5. 8</text>
<text class="tS" x="471.93" y="525.3" font-size="14" text-anchor="middle" transform="rotate(-90 471.93 525.3)" textLength="13.48" lengthAdjust="spacingAndGlyphs" >52</text>
<text class="tS" x="435.5" y="675.43" font-size="14" text-anchor="middle" textLength="5.8" lengthAdjust="spacingAndGlyphs" >3</text>
<text class="tS" x="559.59" y="386.36" font-size="14" text-anchor="middle" transform="rotate(36.4 559.59 386.36)" textLength="36.02" lengthAdjust="spacingAndGlyphs" >3–ø2. 7</text>
<text class="tS" x="532.69" y="406.51" font-size="14" text-anchor="middle" transform="rotate(34 532.69 406.51)" textLength="16.44" lengthAdjust="spacingAndGlyphs" >ø15</text>
<text class="tS" x="672.78" y="453.75" font-size="14" text-anchor="middle" transform="rotate(-90 672.78 453.75)" textLength="19.71" lengthAdjust="spacingAndGlyphs" >ø21</text>
<text class="tS" x="855.78" y="450.95" font-size="14" text-anchor="middle" transform="rotate(-90 855.78 450.95)" textLength="13.94" lengthAdjust="spacingAndGlyphs" >M6</text>
<text class="tS" x="797.75" y="496.33" font-size="14" text-anchor="middle" textLength="12.51" lengthAdjust="spacingAndGlyphs" >16</text>
<text class="tS" x="778.35" y="517.93" font-size="14" text-anchor="middle" textLength="27.53" lengthAdjust="spacingAndGlyphs" >23. 5</text>
<text class="tS" x="761.05" y="540.68" font-size="14" text-anchor="middle" textLength="13.1" lengthAdjust="spacingAndGlyphs" >30</text>
<text class="tS" x="562.3" y="574.33" font-size="14" text-anchor="middle" textLength="16.91" lengthAdjust="spacingAndGlyphs" >2. 5</text>
<text class="tS" x="600.88" y="629.9" font-size="14" text-anchor="middle" transform="rotate(-90 600.88 629.9)" textLength="16.72" lengthAdjust="spacingAndGlyphs" >ø18</text>
<text class="tS" x="585.78" y="629.55" font-size="14" text-anchor="middle" transform="rotate(-90 585.78 629.55)" textLength="23.83" lengthAdjust="spacingAndGlyphs" >ø6. 2</text>
<text class="tS" x="732.15" y="586.93" font-size="14" text-anchor="middle" textLength="13.94" lengthAdjust="spacingAndGlyphs" >M3</text>
<text class="tS" x="690.63" y="628.05" font-size="14" text-anchor="middle" transform="rotate(-90 690.63 628.05)" textLength="18.67" lengthAdjust="spacingAndGlyphs" >ø11</text>
<text class="tS" x="709.43" y="629.45" font-size="14" text-anchor="middle" transform="rotate(-90 709.43 629.45)" textLength="13.54" lengthAdjust="spacingAndGlyphs" >ø5</text>
<text class="tS" x="734.8" y="672.58" font-size="14" text-anchor="middle" textLength="19.4" lengthAdjust="spacingAndGlyphs" >5. 5</text>
</svg></body></html>
